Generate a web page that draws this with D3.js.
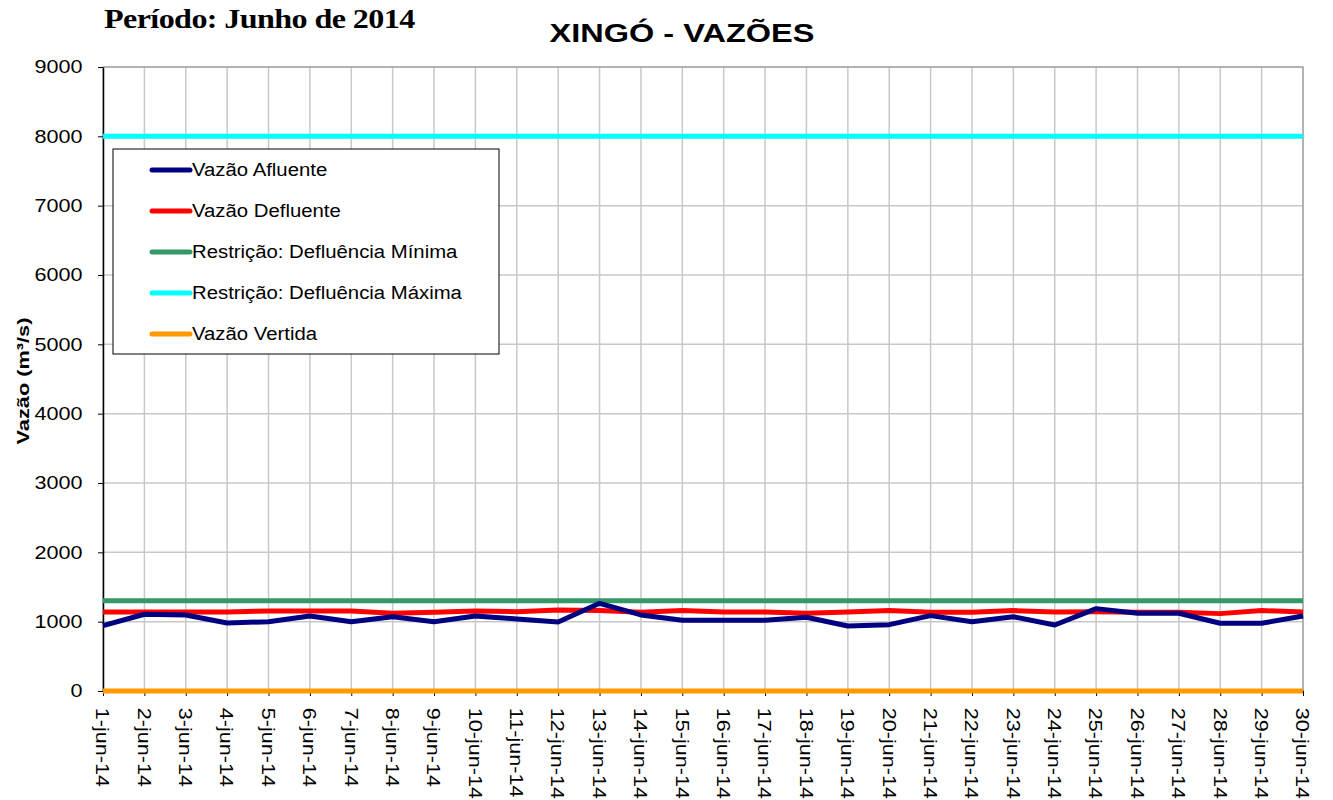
<!DOCTYPE html>
<html>
<head>
<meta charset="utf-8">
<script src="https://cdn.jsdelivr.net/npm/d3@7"></script>
<style>
  body { margin: 0; background: #fff; }
</style>
</head>
<body>
<div id="chart"></div>
<script>
const days = d3.range(1, 31).map(d => d + "-jun-14");
const afluente = [942, 1107, 1097, 981, 1000, 1082, 1000, 1072, 1000, 1082,
  1039, 996, 1265, 1097, 1020, 1020, 1020, 1063, 938, 957,
  1087, 1000, 1072, 952, 1188, 1121, 1121, 977, 977, 1082];
const defluente = [1140, 1140, 1140, 1140, 1154, 1154, 1154, 1121, 1135, 1154,
  1144, 1169, 1160, 1135, 1160, 1140, 1140, 1121, 1140, 1160,
  1135, 1135, 1160, 1140, 1144, 1135, 1135, 1116, 1160, 1140];
const defMin = days.map(() => 1300);
const defMax = days.map(() => 8000);
const vertida = days.map(() => 0);
const yTicks = [0, 1000, 2000, 3000, 4000, 5000, 6000, 7000, 8000, 9000];

const series = [
  { name: "Vazão Afluente", color: "#000080", values: afluente },
  { name: "Vazão Defluente", color: "#ff0000", values: defluente },
  { name: "Restrição: Defluência Mínima", color: "#339966", values: defMin },
  { name: "Restrição: Defluência Máxima", color: "#00ffff", values: defMax },
  { name: "Vazão Vertida", color: "#ff9900", values: vertida }
];

const W = 1333, H = 800;
const margin = { top: 67, right: 30, bottom: 109, left: 103 },
  width = W - margin.left - margin.right,
  height = H - margin.top - margin.bottom;
const SANS = "Arial, 'Liberation Sans', sans-serif";
const sx = 1.2; // wide text like the original rendering

const svg = d3.select("#chart").append("svg")
  .attr("width", W).attr("height", H)
  .style("font-family", SANS);

const g = svg.append("g")
  .attr("transform", `translate(${margin.left},${margin.top})`);

const x = d3.scalePoint().domain(days).range([0, width]);
const y = d3.scaleLinear().domain([0, 9000]).range([height, 0]);

// grid
g.append("g").selectAll("line").data(days.slice(1)).join("line")
  .attr("x1", d => x(d)).attr("x2", d => x(d))
  .attr("y1", 0).attr("y2", height)
  .attr("stroke", "#c8c8c8").attr("stroke-width", 1.5);
g.append("g").selectAll("line").data(yTicks.slice(1)).join("line")
  .attr("x1", 0).attr("x2", width)
  .attr("y1", d => y(d)).attr("y2", d => y(d))
  .attr("stroke", "#c8c8c8").attr("stroke-width", 1.5);

// frame
g.append("rect").attr("width", width).attr("height", height)
  .attr("fill", "none").attr("stroke", "#909090").attr("stroke-width", 1);

// axes
const yAxis = g.append("g")
  .call(d3.axisLeft(y).tickValues(yTicks).tickFormat(d3.format("d")).tickSize(5).tickSizeOuter(0));
yAxis.attr("font-family", null);
yAxis.select(".domain").attr("stroke", "#000").attr("stroke-width", 1.5);
yAxis.selectAll("text").attr("font-size", 18).attr("fill", "#000")
  .attr("x", -17).attr("transform", `scale(${sx},1)`);

const xAxis = g.append("g").attr("transform", `translate(0,${height})`)
  .call(d3.axisBottom(x).tickSize(5).tickSizeOuter(0));
xAxis.attr("font-family", null);
xAxis.select(".domain").attr("stroke", "#000").attr("stroke-width", 1.5);
xAxis.selectAll("text")
  .attr("font-size", 18).attr("fill", "#000")
  .attr("text-anchor", "start")
  .attr("transform", `rotate(90) scale(${sx},1)`)
  .attr("x", 14).attr("y", 0).attr("dy", "0.4em");

// lines
const line = d3.line().x((d, i) => x(days[i])).y(d => y(d));
const order = [2, 3, 4, 1, 0];
g.selectAll(".series").data(order.map(i => series[i])).join("path")
  .attr("fill", "none")
  .attr("stroke", d => d.color)
  .attr("stroke-width", 5)
  .attr("stroke-linejoin", "round")
  .attr("d", d => line(d.values));

// legend
const leg = svg.append("g").attr("transform", "translate(113,149)");
leg.append("rect").attr("width", 386).attr("height", 205)
  .attr("fill", "#fff").attr("stroke", "#000").attr("stroke-width", 1);
series.forEach((s, i) => {
  const yy = 21 + i * 41;
  leg.append("line").attr("x1", 39).attr("x2", 77).attr("y1", yy).attr("y2", yy)
    .attr("stroke", s.color).attr("stroke-width", 5).attr("stroke-linecap", "round");
  leg.append("text").attr("transform", `translate(79,${yy}) scale(1.13,1)`)
    .attr("dy", "0.35em")
    .attr("font-size", 18).attr("fill", "#000").text(s.name);
});

// titles
svg.append("text").attr("transform", `translate(682,42) scale(1.25,1)`)
  .attr("text-anchor", "middle")
  .attr("font-size", 26).attr("font-weight", "bold").attr("fill", "#000")
  .text("XINGÓ - VAZÕES");
svg.append("text").attr("transform", "translate(104,28) scale(1.19,1)")
  .style("font-family", "'Liberation Serif', 'Times New Roman', serif")
  .attr("font-size", 27).attr("font-weight", "bold").attr("letter-spacing", -0.5)
  .attr("fill", "#000").text("Período: Junho de 2014");
svg.append("text")
  .attr("transform", `translate(29,${margin.top + height / 2 + 2}) rotate(-90) scale(1.28,1)`)
  .attr("text-anchor", "middle").attr("font-size", 17).attr("font-weight", "bold")
  .attr("fill", "#000").text("Vazão (m³/s)");
</script>
</body>
</html>
